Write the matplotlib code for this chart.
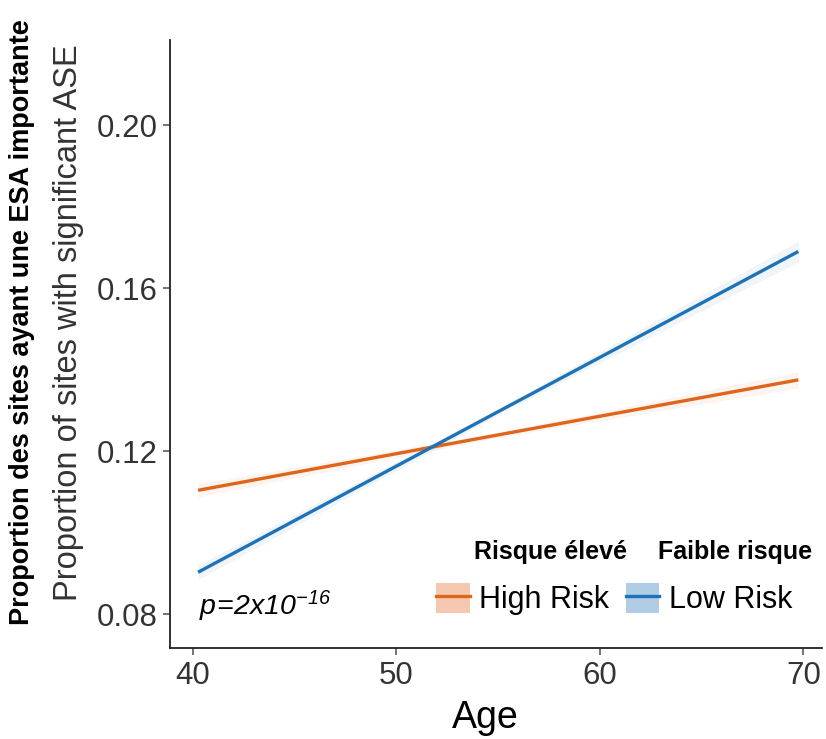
import matplotlib
matplotlib.use("Agg")
from matplotlib import pyplot as plt
from matplotlib.patches import Patch
from matplotlib.lines import Line2D

plt.rcParams['font.family'] = ['Liberation Sans', 'DejaVu Sans']
plt.rcParams['mathtext.fontset'] = 'custom'
plt.rcParams['mathtext.it'] = 'Liberation Sans:italic'
plt.rcParams['mathtext.rm'] = 'Liberation Sans:italic'

# fitted lines
ages = [40.25, 55.0, 69.75]
high_fit = [0.1104, 0.1240, 0.1375]
high_lo = [0.1088, 0.1234, 0.1355]
high_hi = [0.1120, 0.1246, 0.1395]
low_fit = [0.0903, 0.1297, 0.1690]
low_lo = [0.0885, 0.1290, 0.1665]
low_hi = [0.0921, 0.1304, 0.1715]

orange = '#E0651C'
blue = '#1F72B6'
grey = '#4D4D4D'

fig = plt.figure(figsize=(8.26, 7.39), dpi=100)
ax = fig.add_axes([0.2058, 0.1231, 0.789, 0.8228])

ax.fill_between(ages, high_lo, high_hi, color=orange, alpha=0.07, lw=0)
ax.fill_between(ages, low_lo, low_hi, color=blue, alpha=0.07, lw=0)
ax.plot(ages, high_fit, c=orange, lw=2.4, solid_capstyle='butt')
ax.plot(ages, low_fit, c=blue, lw=2.4, solid_capstyle='butt')

ax.set_xlim(38.87, 70.9)
ax.set_ylim(0.0717, 0.2209)
ax.set_xticks([40, 50, 60, 70])
ax.set_yticks([0.08, 0.12, 0.16, 0.20])
ax.set_yticklabels(['0.08', '0.12', '0.16', '0.20'])
ax.tick_params(axis='both', which='major', labelsize=22.5, colors=grey,
               length=5, width=1.1, pad=4)
ax.tick_params(axis='both', labelcolor='#333333')
for s in ['top', 'right']:
    ax.spines[s].set_visible(False)
for s in ['left', 'bottom']:
    ax.spines[s].set_linewidth(1.3)
    ax.spines[s].set_color('#222222')

fig.text(0.588, 0.0285, 'Age', fontsize=27, ha='center', va='center')
fig.text(0.083, 0.564, 'Proportion of sites with significant ASE', fontsize=23.5,
         rotation=90, ha='center', va='center', color='#333333')
fig.text(0.027, 0.564, 'Proportion des sites ayant une ESA importante', fontsize=19.5,
         fontweight='bold', rotation=90, ha='center', va='center')

ax.text(0.045, 0.068, r'$p\!=\!2x10^{-16}$', transform=ax.transAxes,
        fontsize=20.5, ha='left', va='center')

h1 = (Patch(facecolor=orange, alpha=0.35, lw=0), Line2D([], [], color=orange, lw=2.4))
h2 = (Patch(facecolor=blue, alpha=0.35, lw=0), Line2D([], [], color=blue, lw=2.4))
leg = ax.legend([h1, h2], ['High Risk', 'Low Risk'], loc='center left',
                bbox_to_anchor=(0.385, 0.08), ncol=2, frameon=False,
                fontsize=22, handlelength=1.1, handleheight=1.1,
                handletextpad=0.3, columnspacing=0.55, borderpad=0)
fig.text(0.667, 0.253, 'Risque élevé', fontsize=18, fontweight='bold',
         ha='center', va='center')
fig.text(0.89, 0.253, 'Faible risque', fontsize=18, fontweight='bold',
         ha='center', va='center')

fig.savefig('out.png', dpi=100)
